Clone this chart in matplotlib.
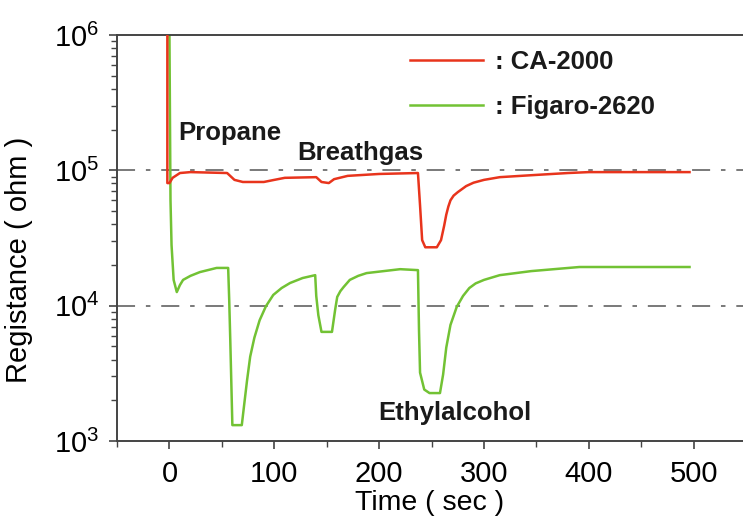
import numpy as np
import matplotlib
matplotlib.use('Agg')
import matplotlib.pyplot as plt
from matplotlib.lines import Line2D
from matplotlib.ticker import LogLocator, MultipleLocator, NullFormatter

plt.rcParams['font.family'] = ['Liberation Sans', 'DejaVu Sans']
plt.rcParams['mathtext.default'] = 'regular'

# DATA
ca_time = [-2, -2, 0, 3, 10, 20, 55, 62, 70, 90, 100, 110, 140, 145, 152, 157,
           170, 200, 237, 239, 241, 244, 255, 259, 262, 264, 266, 268, 271,
           275, 283, 290, 300, 315, 345, 380, 400, 496]
ca_res = [1e6, 8.05e4, 8.05e4, 8.8e4, 9.55e4, 9.7e4, 9.55e4, 8.5e4, 8.2e4,
          8.2e4, 8.5e4, 8.8e4, 8.9e4, 8.2e4, 8.05e4, 8.6e4, 9.1e4, 9.4e4,
          9.55e4, 5.5e4, 3.05e4, 2.7e4, 2.7e4, 3.05e4, 3.9e4, 4.7e4, 5.4e4,
          6.0e4, 6.5e4, 6.9e4, 7.65e4, 8.1e4, 8.5e4, 8.9e4, 9.2e4, 9.55e4,
          9.7e4, 9.7e4]

fig_time = [0, 1, 2, 4, 7, 10, 13, 20, 29, 45, 56, 57, 58, 60, 69, 71, 74, 77,
            81, 86, 92, 99, 107, 115, 127, 139, 140, 142, 145, 155, 158, 160,
            163, 166, 172, 180, 188, 220, 237, 238, 239, 243, 248, 258, 261,
            264, 268, 274, 280, 286, 292, 300, 315, 345, 391, 496]
fig_res = [1e6, 6.0e4, 2.8e4, 1.55e4, 1.26e4, 1.42e4, 1.55e4, 1.66e4, 1.77e4,
           1.9e4, 1.9e4, 1.1e4, 5.6e3, 1.31e3, 1.31e3, 1.78e3, 2.8e3, 4.2e3,
           5.8e3, 7.8e3, 9.9e3, 1.2e4, 1.35e4, 1.47e4, 1.6e4, 1.68e4, 1.18e4,
           8.5e3, 6.4e3, 6.4e3, 9.3e3, 1.16e4, 1.28e4, 1.37e4, 1.55e4,
           1.66e4, 1.74e4, 1.86e4, 1.83e4, 6.6e3, 3.2e3, 2.4e3, 2.26e3,
           2.26e3, 3.1e3, 4.9e3, 7.2e3, 9.8e3, 1.18e4, 1.35e4, 1.46e4,
           1.55e4, 1.68e4, 1.8e4, 1.93e4, 1.93e4]

ref_levels = [1e5, 1e4]
gas_labels = ['Propane', 'Breathgas', 'Ethylalcohol']
gas_pos = [(8, 1.89e5), (122, 1.34e5), (199, 1.6e3)]

red = '#e8341c'
green = '#72c234'

# PLOTTING
fig = plt.figure(figsize=(7.43, 5.19), dpi=100)
ax = fig.add_axes([0.1575, 0.1503, 0.8425, 0.7823])

for lev in ref_levels:
    ax.axhline(lev, color='#6e6e6e', lw=1.3, dashes=(10, 6, 2.5, 6), zorder=1)

ax.plot(ca_time, ca_res, color=red, lw=1.8, zorder=3)
ax.plot(fig_time, fig_res, color=green, lw=1.8, zorder=2)

ax.set_yscale('log')
ax.set_xlim(-50, 547)
ax.set_ylim(1e3, 1e6)

ax.xaxis.set_major_locator(MultipleLocator(100))
ax.xaxis.set_minor_locator(MultipleLocator(50))
ax.yaxis.set_major_locator(LogLocator(base=10, numticks=10))
ax.yaxis.set_minor_locator(LogLocator(base=10, subs=np.arange(2, 10), numticks=10))
ax.yaxis.set_minor_formatter(NullFormatter())

ax.tick_params(axis='both', which='major', direction='out', labelsize=21,
               length=6, width=1.2, color='#444444')
ax.tick_params(axis='both', which='minor', direction='out', length=4,
               width=1.0, color='#444444')
ax.tick_params(axis='x', which='major', pad=8)
ax.tick_params(axis='y', which='major', pad=7)

for s in ['left', 'bottom', 'top']:
    ax.spines[s].set_linewidth(1.4)
    ax.spines[s].set_color('#444444')
ax.spines['right'].set_visible(False)

ax.set_xlabel('Time ( sec )', fontsize=20.5, labelpad=1)
ax.set_ylabel('Registance ( ohm )', fontsize=21)
ax.yaxis.set_label_coords(-0.134, 0.446)

for lab, (tx, ty) in zip(gas_labels, gas_pos):
    ax.text(tx, ty, lab, fontsize=18.5, fontweight='bold', ha='left',
            va='center', color='#1a1a1a')

handles = [Line2D([], [], color=red, lw=1.8), Line2D([], [], color=green, lw=1.8)]
leg = ax.legend(handles, [': CA-2000', ': Figaro-2620'], loc='center left',
                bbox_to_anchor=(0.468, 0.878), frameon=False, borderpad=0,
                borderaxespad=0, handlelength=2.85, handletextpad=0.45,
                labelspacing=0.85, prop={'size': 18.5, 'weight': 'bold'})
for t in leg.get_texts():
    t.set_color('#1a1a1a')

fig.savefig('out.png', dpi=100)
